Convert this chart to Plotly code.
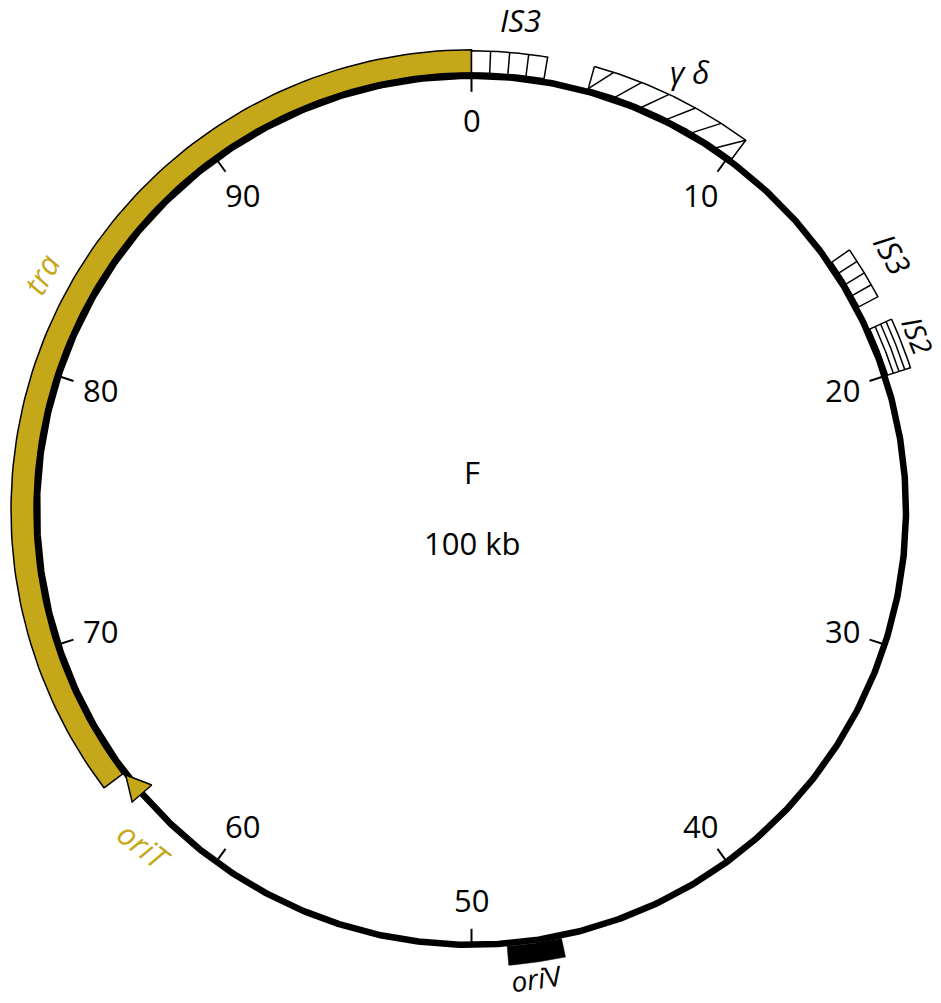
import numpy as np
import plotly.graph_objects as go

# ---------------- data (kb positions on a 100 kb map) ----------------
plasmid_name = "F"
plasmid_size_label = "100 kb"
total_kb = 100
tick_values = [0, 10, 20, 30, 40, 50, 60, 70, 80, 90]
tick_labels = ["0", "10", "20", "30", "40", "50", "60", "70", "80", "90"]

# tra region (gold band)
tra_start, tra_end = 64.7, 100.0
# oriT arrowhead (base, tip)
oriT_base, oriT_tip = 63.7, 64.6
# insertion elements
is3a_start, is3a_end = 0.0, 2.65
gd_start, gd_end = 4.3, 10.15
is3b_start, is3b_end = 15.4, 17.3
is2_start, is2_end = 18.2, 20.0
# oriV
oriV_start, oriV_end = 46.7, 48.7

# ---------------- styling / geometry ----------------
GOLD = "#C5A81A"
R = 434.5             # backbone radius (px)
R_IN = 437.5          # inner radius of outside boxes
R_OUT = 460.5         # outer radius of outside boxes
R_LABEL = 390
TICK_LEN = 16
FONT = "Open Sans"
FS = 31


def ang(kb):
    return np.asarray(kb, dtype=float) / total_kb * 2 * np.pi


def pol(kb, r):
    a = ang(kb)
    return r * np.sin(a), r * np.cos(a)


def arc(k0, k1, r, n=120):
    ks = np.linspace(k0, k1, n)
    return pol(ks, r)


def sector(k0, k1, r0, r1):
    xo, yo = arc(k0, k1, r1)
    xi, yi = arc(k1, k0, r0)
    x = np.concatenate([xo, xi, xo[:1]])
    y = np.concatenate([yo, yi, yo[:1]])
    return x, y


fig = go.Figure()


def add_poly(x, y, fill, line_color="black", lw=1.5):
    fig.add_trace(go.Scatter(x=x, y=y, mode="lines", fill="toself", fillcolor=fill,
                             line=dict(color=line_color, width=lw), hoverinfo="skip",
                             showlegend=False))


def add_line(x, y, color="black", lw=1.5):
    fig.add_trace(go.Scatter(x=x, y=y, mode="lines", line=dict(color=color, width=lw),
                             hoverinfo="skip", showlegend=False))


# tra band
add_poly(*sector(tra_start, tra_end, R_IN, R_OUT), GOLD)

# IS3 (top) with radial dividers
add_poly(*sector(is3a_start, is3a_end, R_IN, R_OUT - 1), "white")
for k in np.linspace(is3a_start, is3a_end, 5)[1:-1]:
    xa, ya = pol([k, k], [R_IN, R_OUT - 1])
    add_line(xa, ya)

# gamma-delta with diagonal hatching
add_poly(*sector(gd_start, gd_end, R_IN, R_OUT), "white")
hatch_off = 0.7
for k in np.linspace(gd_start, gd_end - hatch_off, 6):
    x0, y0 = pol(k, R_IN)
    x1, y1 = pol(k + hatch_off, R_OUT)
    add_line([x0, x1], [y0, y1])

# IS3 (right) with radial dividers
add_poly(*sector(is3b_start, is3b_end, R_IN, R_OUT - 1.5), "white")
for k in np.linspace(is3b_start, is3b_end, 5)[1:-1]:
    xa, ya = pol([k, k], [R_IN, R_OUT - 1.5])
    add_line(xa, ya)

# IS2 with concentric arcs
add_poly(*sector(is2_start, is2_end, R_IN, R_OUT + 1), "white")
for rr in np.linspace(R_IN, R_OUT + 1, 5)[1:-1]:
    add_line(*arc(is2_start, is2_end, rr, 40))

# oriV (black block)
add_poly(*sector(oriV_start, oriV_end, R_IN, R_IN + 19), "black", lw=0.5)

# backbone circle
add_line(*arc(0, total_kb, R, 1000), lw=6.5)

# ticks
for t in tick_values:
    xa, ya = pol([t, t], [R, R - TICK_LEN])
    add_line(xa, ya, lw=2)

# oriT arrowhead
bx0, by0 = pol(oriT_base, R - 13)
bx1, by1 = pol(oriT_base, R + 13)
tx, ty = pol(oriT_tip, R + 1)
add_poly([bx0, tx, bx1, bx0], [by0, ty, by1, by0], GOLD)

annotations = []
for t, lab in zip(tick_values, tick_labels):
    x, y = pol(t, R_LABEL)
    annotations.append(dict(x=float(x), y=float(y), text=lab, showarrow=False,
                            font=dict(family=FONT, size=FS, color="black"),
                            xanchor="center", yanchor="middle"))

# feature labels: (text, kb position, radius, rotation, colour, size)
feature_labels = [
    ("<i>IS3</i>", 1.57, 492.7, 0, "black", 31),
    ("<i>γ δ</i>", 7.37, 489.7, 0, "black", 31),
    ("<i>IS3</i>", 16.3, 492.8, 60, "black", 31),
    ("<i>IS2</i>", 19.05, 479.0, 68, "black", 28),
    ("<i>tra</i>", 83.0, 491.1, -61, GOLD, 31),
    ("<i>oriT</i>", 62.3, 469.0, 38, GOLD, 31),
    ("<i>ori</i>V", 47.8, 472.5, -8, "black", 28),
]
for txt, k, r, rot, col, fs in feature_labels:
    x, y = pol(k, r)
    annotations.append(dict(x=float(x), y=float(y), text=txt, showarrow=False,
                            textangle=rot,
                            font=dict(family=FONT, size=fs, color=col),
                            xanchor="center", yanchor="middle"))

annotations.append(dict(x=0, y=38, text=plasmid_name, showarrow=False,
                        font=dict(family=FONT, size=FS, color="black")))
annotations.append(dict(x=0, y=-33, text=plasmid_size_label, showarrow=False,
                        font=dict(family=FONT, size=FS, color="black")))

W, H = 941, 1003
CX, CY = 471.5, 510.3
fig.update_layout(
    width=W, height=H,
    margin=dict(l=0, r=0, t=0, b=0),
    paper_bgcolor="white", plot_bgcolor="white",
    xaxis=dict(range=[-CX, W - CX], visible=False, fixedrange=True),
    yaxis=dict(range=[CY - H, CY], visible=False, fixedrange=True),
    annotations=annotations,
    showlegend=False,
)

fig.write_html("out.html", config={"displayModeBar": False},
               post_script="document.body.style.margin='0';document.body.style.overflow='hidden';")
